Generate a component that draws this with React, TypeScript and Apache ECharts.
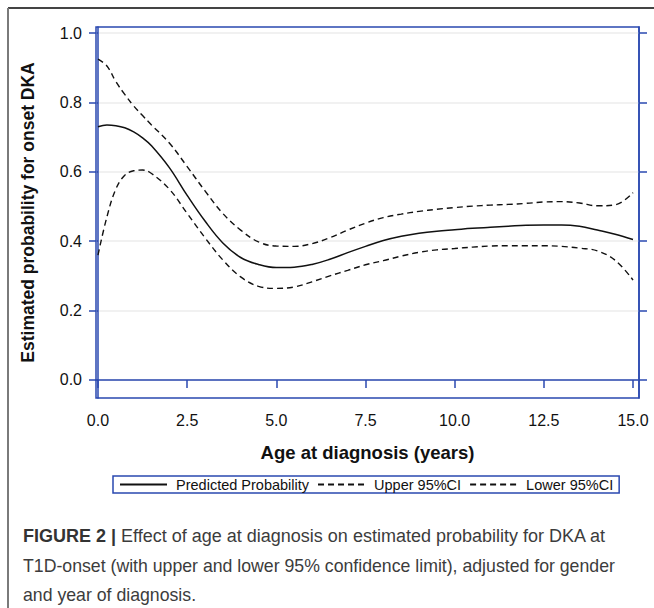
import React, { useEffect, useRef } from "react";
import * as echarts from "echarts";

const ages = [0, 0.25, 0.5, 0.75, 1, 1.25, 1.5, 2, 2.5, 3, 3.5, 4, 4.5, 5, 5.5, 6, 6.5, 7, 7.5, 8, 8.5, 9, 9.5, 10, 10.5, 11, 11.5, 12, 12.5, 13, 13.5, 14, 14.5, 15];
const predicted = [0.730, 0.735, 0.733, 0.727, 0.715, 0.698, 0.675, 0.612, 0.532, 0.458, 0.395, 0.353, 0.333, 0.324, 0.325, 0.333, 0.348, 0.367, 0.385, 0.402, 0.414, 0.423, 0.429, 0.433, 0.437, 0.440, 0.443, 0.446, 0.447, 0.447, 0.443, 0.432, 0.420, 0.405];
const upper = [0.925, 0.905, 0.860, 0.823, 0.790, 0.762, 0.735, 0.683, 0.615, 0.545, 0.480, 0.432, 0.398, 0.386, 0.385, 0.393, 0.410, 0.432, 0.452, 0.468, 0.478, 0.486, 0.492, 0.497, 0.501, 0.504, 0.506, 0.509, 0.513, 0.514, 0.510, 0.502, 0.505, 0.540];
const lower = [0.360, 0.470, 0.550, 0.590, 0.603, 0.605, 0.595, 0.550, 0.480, 0.410, 0.346, 0.297, 0.270, 0.264, 0.268, 0.283, 0.300, 0.316, 0.332, 0.344, 0.357, 0.368, 0.375, 0.379, 0.383, 0.386, 0.387, 0.387, 0.387, 0.385, 0.380, 0.372, 0.345, 0.288];

const xTicks = [0, 2.5, 5, 7.5, 10, 12.5, 15];
const yTicks = [0, 0.2, 0.4, 0.6, 0.8, 1.0];

const seriesNames = ["Predicted Probability", "Upper 95%CI", "Lower 95%CI"];

const BLUE = "#2a48b0";
const FONT = "'Liberation Sans', Arial, sans-serif";

const pair = (ys: number[]) => ages.map((a, i) => [a, ys[i]]);

export default function App() {
  const ref = useRef<HTMLDivElement>(null);
  useEffect(() => {
    if (!ref.current) return;
    const chart = echarts.init(ref.current, null, { renderer: "svg" });
    const lineSeries = (name: string, ys: number[], dashed: boolean) => ({
      name,
      type: "line",
      data: pair(ys),
      smooth: 0.4,
      symbol: "none",
      showSymbol: false,
      lineStyle: { color: "#111", width: dashed ? 1.4 : 1.5, type: dashed ? [6, 4] : "solid" },
      itemStyle: { color: "#111" },
    });
    chart.setOption({
      animation: false,
      backgroundColor: "#fff",
      textStyle: { fontFamily: FONT },
      grid: { left: 96, right: 15, top: 27, bottom: 210, show: true, borderColor: BLUE, borderWidth: 1.5, backgroundColor: "transparent" },
      xAxis: {
        type: "value",
        min: -0.056,
        max: 15.168,
        name: "Age at diagnosis (years)",
        nameLocation: "middle",
        nameGap: 45,
        nameTextStyle: { fontSize: 18.5, fontWeight: "bold", color: "#111", fontFamily: FONT },
        axisLine: { show: true, lineStyle: { color: BLUE, width: 1.5 } },
        axisTick: { show: true, length: 8, customValues: xTicks, lineStyle: { color: BLUE, width: 1.5 } },
        axisLabel: { customValues: xTicks, margin: 14, fontSize: 16, color: "#111", fontFamily: FONT, formatter: (v: number) => v.toFixed(1) },
        splitLine: { show: false },
      },
      yAxis: [
        {
          type: "value",
          min: -0.0519,
          max: 1.0173,
          name: "Estimated probability for onset DKA",
          nameLocation: "middle",
          nameGap: 59,
          nameTextStyle: { fontSize: 17.5, fontWeight: "bold", color: "#111", fontFamily: FONT },
          axisLine: { show: true, lineStyle: { color: BLUE, width: 1.5 } },
          axisTick: { show: true, length: 9, customValues: yTicks, lineStyle: { color: BLUE, width: 1.5 } },
          axisLabel: { customValues: yTicks, margin: 14, fontSize: 16, color: "#111", fontFamily: FONT, formatter: (v: number) => v.toFixed(1) },
          splitLine: { show: true, lineStyle: { color: "#ececec", width: 1.5 } },
        },
        {
          type: "value",
          position: "right",
          min: -0.0519,
          max: 1.0173,
          axisLine: { show: true, lineStyle: { color: BLUE, width: 1.5 } },
          axisTick: { show: true, length: 8, customValues: yTicks, lineStyle: { color: BLUE, width: 1.5 } },
          axisLabel: { show: false },
          splitLine: { show: false },
        },
      ],
      legend: {
        data: seriesNames,
        left: 113,
        top: 476,
        padding: [1, 6, 1, 6],
        itemWidth: 47,
        itemHeight: 10,
        itemGap: 8,
        borderColor: BLUE,
        borderWidth: 1.5,
        itemStyle: { opacity: 0, borderWidth: 0 },
        formatter: (n: string) => " " + n,
        textStyle: { fontSize: 14.5, color: "#111", fontFamily: FONT },
      },
      series: [
        lineSeries(seriesNames[0], predicted, false),
        lineSeries(seriesNames[1], upper, true),
        lineSeries(seriesNames[2], lower, true),
      ],
      graphic: [
        { type: "line", shape: { x1: 8, y1: 8, x2: 654, y2: 8 }, style: { stroke: "#444", lineWidth: 2 } },
        { type: "line", shape: { x1: 8, y1: 8, x2: 8, y2: 608 }, style: { stroke: "#7a7a7a", lineWidth: 2 } },
        {
          type: "text",
          left: 23,
          top: 527,
          style: {
            text: "{b|FIGURE 2 |} Effect of age at diagnosis on estimated probability for DKA at",
            font: `18px ${FONT}`,
            fill: "#3c3c3c",
            rich: { b: { fontWeight: "bold", fontSize: 18, fontFamily: FONT, fill: "#333" } },
          },
        },
        {
          type: "text",
          left: 23,
          top: 557,
          style: { text: "T1D-onset (with upper and lower 95% confidence limit), adjusted for gender", font: `17.7px ${FONT}`, fill: "#3c3c3c" },
        },
        {
          type: "text",
          left: 23,
          top: 586,
          style: { text: "and year of diagnosis.", font: `17.7px ${FONT}`, fill: "#3c3c3c" },
        },
      ],
    });
    return () => chart.dispose();
  }, []);
  return <div ref={ref} style={{ width: 654, height: 608, position: "absolute", left: 0, top: 0 }} />;
}
